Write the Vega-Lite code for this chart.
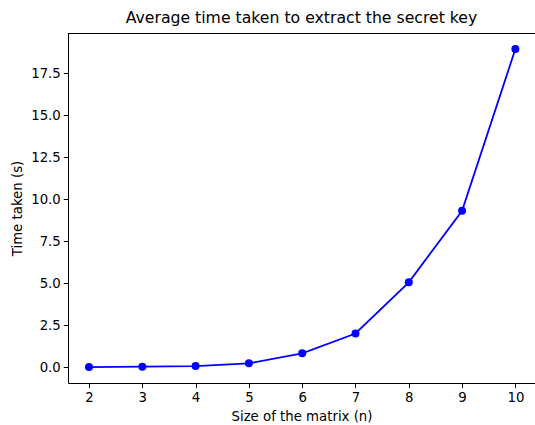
{
  "$schema": "https://vega.github.io/schema/vega-lite/v6.json",
  "autosize": {"type": "none"},
  "padding": {"left": 68, "top": 33, "right": 0, "bottom": 42},
  "width": 467,
  "height": 350,
  "background": "white",
  "title": {"text": "Average time taken to extract the secret key", "fontSize": 15.7, "font": "DejaVu Sans", "fontWeight": "normal", "color": "black", "offset": 6},
  "config": {
    "view": {"stroke": null},
    "axis": {"labelFont": "DejaVu Sans", "titleFont": "DejaVu Sans", "labelFontSize": 13.3, "titleFontSize": 13.3, "titleFontWeight": "normal", "labelColor": "black", "titleColor": "black", "tickColor": "black", "domainColor": "black", "domainWidth": 1, "grid": false, "tickSize": 4.7, "labelPadding": 3}
  },
  "data": {"values": [
    {"n": 2, "t": 0.0},
    {"n": 3, "t": 0.02},
    {"n": 4, "t": 0.06},
    {"n": 5, "t": 0.22},
    {"n": 6, "t": 0.82},
    {"n": 7, "t": 2.0},
    {"n": 8, "t": 5.05},
    {"n": 9, "t": 9.31},
    {"n": 10, "t": 18.95}
  ]},
  "layer": [
    {
      "mark": {"type": "line", "color": "#0000ff", "strokeWidth": 1.8},
      "encoding": {
        "x": {"field": "n", "type": "quantitative", "title": "Size of the matrix (n)", "scale": {"domain": [1.606, 10.368], "nice": false, "zero": false}, "axis": {"values": [2,3,4,5,6,7,8,9,10], "format": "d", "titlePadding": 5}},
        "y": {"field": "t", "type": "quantitative", "title": "Time taken (s)", "scale": {"domain": [-0.95, 19.9], "nice": false, "zero": false}, "axis": {"values": [0,2.5,5,7.5,10,12.5,15,17.5], "format": ".1f", "titlePadding": 6}}
      }
    },
    {
      "mark": {"type": "point", "filled": true, "color": "#0000ff", "size": 64, "opacity": 1},
      "encoding": {
        "x": {"field": "n", "type": "quantitative"},
        "y": {"field": "t", "type": "quantitative"}
      }
    },
    {
      "mark": {"type": "rule", "color": "black", "strokeWidth": 1, "yOffset": 0.5},
      "encoding": {"y": {"datum": 19.9}}
    }
  ]
}
